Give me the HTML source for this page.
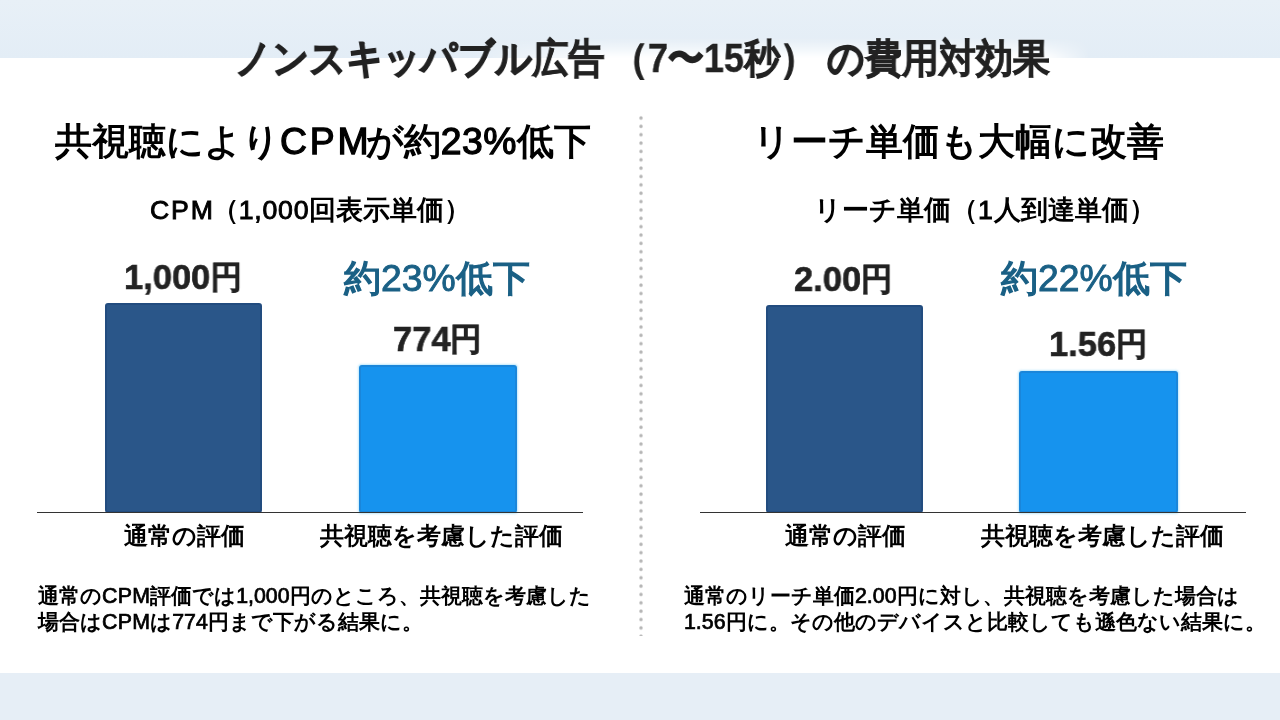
<!DOCTYPE html>
<html lang="ja">
<head>
<meta charset="utf-8">
<title>ノンスキッパブル広告の費用対効果</title>
<style>
html,body{margin:0;padding:0;}
body{width:1280px;height:720px;overflow:hidden;background:#fff;font-family:"Liberation Sans",sans-serif;color:#000;position:relative;}
.abs{position:absolute;white-space:nowrap;line-height:1;will-change:transform;}
.top{position:absolute;left:0;top:0;width:1280px;height:57.6px;background:linear-gradient(#e8f0f7,#e3edf6);}
.halo{position:absolute;left:470px;top:38px;width:620px;height:26px;background:linear-gradient(to bottom,rgba(255,255,255,0) 0,rgba(255,255,255,.5) 11px,rgba(255,255,255,.95) 19px,#fff 26px);-webkit-mask-image:linear-gradient(to right,transparent 0,#000 140px,#000 575px,transparent 620px);mask-image:linear-gradient(to right,transparent 0,#000 140px,#000 575px,transparent 620px);filter:blur(1.5px);}
.bot{position:absolute;left:0;top:672.6px;width:1280px;height:48px;background:#e6eef6;}
.title{top:37.5px;font-size:40px;font-weight:bold;color:#222;-webkit-text-stroke:1.3px #222;transform-origin:0 0;filter:blur(0.6px);}
.k{-webkit-text-stroke:0.75px #222;}
.h{font-size:37.33px;font-weight:bold;}
.sh{font-size:26.67px;font-weight:bold;}
.pct{font-size:37.33px;color:#1a6085;-webkit-text-stroke:1.4px #1a6085;}
.l,.n,.n2{font-weight:normal;-webkit-text-stroke:0.034em #000;letter-spacing:0.028em;}
.n2{letter-spacing:0.012em;}
.desc .n{letter-spacing:0;}
.desc .l{letter-spacing:0.012em;}
.y{font-size:0.91em;position:relative;top:-1px;}
.ax{font-size:24px;font-weight:bold;}
.desc{font-size:21.33px;font-weight:bold;line-height:25.6px;white-space:nowrap;position:absolute;will-change:transform;}
.val{font-size:35px;font-weight:bold;color:#222;-webkit-text-stroke:0.6px #222;transform:scaleX(0.985);transform-origin:0 0;filter:blur(0.6px);}
.bar{position:absolute;filter:blur(0.7px);border-radius:3px;box-sizing:border-box;border:2px solid;}
.dark{background:#2a5689;border-color:#224c7f;}
.light{background:#1693ee;border-color:#1a86da;box-shadow:0 0 2px 0.5px rgba(140,215,250,.55);}
.axis{position:absolute;height:1.6px;background:#333;filter:blur(0.4px);}
.dots{position:absolute;left:637.8px;top:115.2px;width:6px;height:521px;background:radial-gradient(circle at 3px 3px,#b6b6b6 1.05px,rgba(182,182,182,0) 2.3px) 0 0/6px 8.37px repeat-y;filter:blur(0.4px);}
</style>
</head>
<body>
<div class="top"></div>
<div class="bot"></div>
<div class="halo"></div>
<div class="abs title" style="left:235px;transform:scaleX(0.906);">ノンスキッパブル<span class="k">広告</span></div>
<div class="abs title" style="left:612px;transform:scaleX(0.899);">（<span style="-webkit-text-stroke:0.4px #222">7</span>〜<span style="-webkit-text-stroke:0.4px #222">15</span><span class="k">秒</span>）</div>
<div class="abs title" style="left:827px;transform:scaleX(0.925);">の<span class="k">費用対効果</span></div>
<div class="dots"></div>

<div class="abs h" style="left:54.7px;top:123px;">共視聴により<span class="l" style="letter-spacing:0.075em;margin-right:-0.15em">CPM</span>が約<span class="n2">23%</span>低下</div>
<div class="abs sh" style="left:150px;top:197px;"><span class="l" style="letter-spacing:0.07em;margin-right:-0.115em">CPM</span>（<span class="n">1,000</span>回表示単価）</div>
<div class="abs val" style="left:124.3px;top:258.5px;">1,000<span class="y">円</span></div>
<div class="abs pct" style="left:343.8px;top:259.5px;">約<span style="-webkit-text-stroke-width:0.9px">23%</span>低下</div>
<div class="abs val" style="left:392.5px;top:320.5px;">774<span class="y">円</span></div>
<div class="bar dark" style="left:104.5px;top:302.5px;width:157.5px;height:210.5px;"></div>
<div class="bar light" style="left:358.6px;top:364.6px;width:158.6px;height:148.4px;"></div>
<div class="axis" style="left:37px;top:511.7px;width:546px;"></div>
<div class="abs ax" style="left:124px;top:524px;">通常の評価</div>
<div class="abs ax" style="left:320px;top:524px;">共視聴を考慮した評価</div>
<div class="desc" style="left:37.6px;top:583.7px;">通常の<span class="l">CPM</span>評価では<span class="n">1,000</span>円のところ、共視聴を考慮した<br>場合は<span class="l">CPM</span>は<span class="n">774</span>円まで下がる結果に。</div>

<div class="abs h" style="left:753px;top:122.8px;">リーチ単価も大幅に改善</div>
<div class="abs sh" style="left:813.5px;top:197px;">リーチ単価（<span class="n">1</span>人到達単価）</div>
<div class="abs val" style="left:794px;top:261px;">2.00<span class="y">円</span></div>
<div class="abs pct" style="left:1001px;top:259.5px;">約<span style="-webkit-text-stroke-width:0.9px">22%</span>低下</div>
<div class="abs val" style="left:1048.5px;top:326.4px;">1.56<span class="y">円</span></div>
<div class="bar dark" style="left:765.5px;top:305.3px;width:157.4px;height:207.7px;"></div>
<div class="bar light" style="left:1019.3px;top:371.3px;width:158.3px;height:141.7px;"></div>
<div class="axis" style="left:700px;top:511.7px;width:546px;"></div>
<div class="abs ax" style="left:785px;top:524px;">通常の評価</div>
<div class="abs ax" style="left:981px;top:524px;">共視聴を考慮した評価</div>
<div class="desc" style="left:684.2px;top:583.7px;">通常のリーチ単価<span class="n">2.00</span>円に対し、共視聴を考慮した場合は<br><span class="n">1.56</span>円に。その他のデバイスと比較しても遜色ない結果に。</div>
</body>
</html>
